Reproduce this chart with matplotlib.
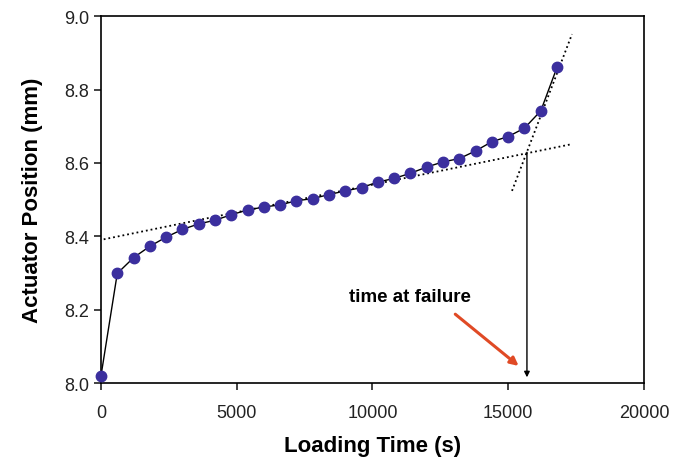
import matplotlib.pyplot as plt

plt.rcParams['font.family'] = ['Liberation Sans', 'DejaVu Sans']

# loading time (s) and actuator position (mm)
time_s = [0, 600, 1200, 1800, 2400, 3000, 3600, 4200, 4800, 5400,
          6000, 6600, 7200, 7800, 8400, 9000, 9600, 10200, 10800, 11400,
          12000, 12600, 13200, 13800, 14400, 15000, 15600, 16200, 16800]
position_mm = [8.020, 8.299, 8.342, 8.373, 8.398, 8.419, 8.434, 8.444, 8.459, 8.472,
               8.480, 8.486, 8.497, 8.503, 8.514, 8.524, 8.533, 8.548, 8.558, 8.572,
               8.589, 8.603, 8.612, 8.633, 8.658, 8.672, 8.695, 8.742, 8.861]

# dotted tangent lines (end points)
tangent1_x = [100, 17320]
tangent1_y = [8.392, 8.651]
tangent2_x = [15140, 17350]
tangent2_y = [8.524, 8.951]

# failure point and annotation
fail_x = 15690
fail_y = 8.629
arrow_bottom = 8.016
note_text = 'time at failure'
note_xy = (11380, 8.237)
red_start = (13050, 8.188)
red_end = (15385, 8.047)

fig = plt.figure(figsize=(6.75, 4.64), dpi=100)
ax = fig.add_axes([0.1496, 0.172, 0.8044, 0.791])

ax.plot(tangent1_x, tangent1_y, color='black', linestyle=':', linewidth=1.3)
ax.plot(tangent2_x, tangent2_y, color='black', linestyle=':', linewidth=1.3)
ax.plot(time_s, position_mm, color='black', linewidth=1.0, zorder=2)
ax.plot(time_s, position_mm, linestyle='none', marker='o', markersize=7.5,
        color='#3b2f9e', markeredgecolor='#3b2f9e', zorder=3, clip_on=False)

ax.annotate('', xy=(fail_x, arrow_bottom), xytext=(fail_x, fail_y),
            arrowprops=dict(arrowstyle='-|>', color='black', lw=1.0,
                            mutation_scale=8, shrinkA=0, shrinkB=0))
ax.annotate('', xy=red_end, xytext=red_start,
            arrowprops=dict(arrowstyle='-|>', color='#e04a25', lw=2.2,
                            mutation_scale=12, shrinkA=0, shrinkB=0))
ax.text(note_xy[0], note_xy[1], note_text, fontsize=13.5, fontweight='bold',
        ha='center', va='center')

ax.set_xlim(0, 20000)
ax.set_ylim(8.0, 9.0)
ax.set_xticks([0, 5000, 10000, 15000, 20000])
ax.set_yticks([8.0, 8.2, 8.4, 8.6, 8.8, 9.0])
ax.set_yticklabels(['8.0', '8.2', '8.4', '8.6', '8.8', '9.0'])
ax.tick_params(direction='out', length=5, width=1.2, labelsize=13, colors='#222222')
ax.tick_params(axis='x', pad=10)
for s in ax.spines.values():
    s.set_linewidth(1.2)

ax.set_xlabel('Loading Time (s)', fontsize=16, fontweight='bold', labelpad=10)
ax.set_ylabel('Actuator Position (mm)', fontsize=16, fontweight='bold', labelpad=15)

fig.savefig('out.png', dpi=100)
